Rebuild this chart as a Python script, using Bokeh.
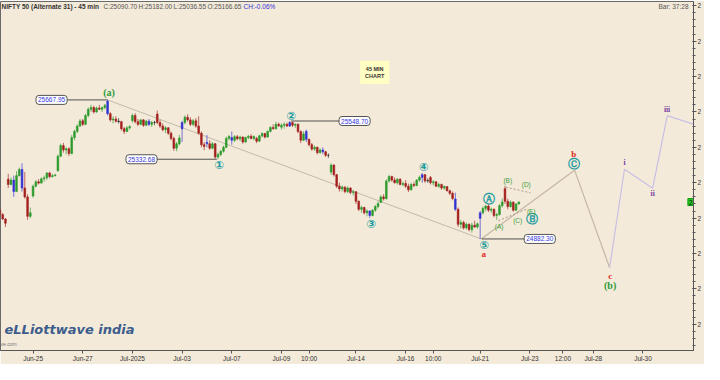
from bokeh.plotting import figure
from bokeh.models import ColumnDataSource, FixedTicker, Range1d, Label
from bokeh.core.properties import value
from bokeh.embed import file_html
from bokeh.resources import INLINE

# ---------------- data (45 min bars, index = bar number) ----------------
bar_open = [25045, 25020, 24995,
            25220, 25190, 25215, 25150, 25240, 25275, 25170, 25120, 25010,
            25125, 25180, 25205, 25198, 25222, 25228, 25255, 25235, 25240,
            25268, 25350, 25410, 25385, 25392, 25365, 25455, 25490, 25520,
            25550, 25530, 25580, 25615, 25625, 25600, 25622, 25615, 25625,
            25661, 25590, 25555, 25560, 25548, 25545, 25505, 25490, 25510,
            25551, 25580, 25545, 25530, 25555, 25525, 25548, 25530, 25540,
            25588, 25540, 25520, 25500, 25510, 25480, 25450, 25395, 25420,
            25505, 25540, 25570, 25555, 25530, 25550, 25520, 25480, 25415,
            25428, 25420, 25395, 25420, 25345, 25360, 25378, 25400, 25450,
            25455, 25440, 25460, 25448, 25458, 25430, 25455, 25462, 25450,
            25450, 25435, 25465, 25478, 25458, 25490, 25512, 25505, 25530,
            25514, 25525, 25530, 25520, 25540, 25525, 25530, 25490, 25440,
            25490, 25445, 25415, 25390, 25400, 25370, 25385, 25375, 25355,
            25260, 25300, 25245, 25180, 25165, 25175, 25150, 25170, 25145,
            25149, 25095, 25050, 25060, 25030, 25040, 25015, 25045, 25065,
            25089, 25120, 25110, 25210, 25235, 25215, 25200, 25220, 25190,
            25196, 25180, 25160, 25190, 25185, 25215, 25230, 25245, 25210,
            25230, 25200, 25205, 25180, 25190, 25170, 25178, 25155, 25140,
            25108, 25050, 24965, 24975, 24945, 24965, 24935, 24960, 24950,
            24999, 25030, 25055, 25068, 25045, 25050, 25015, 25020, 25070,
            25166.65, 25095, 25065, 25090, 25045, 25080]
bar_high = [25055, 25028, 25000,
            25250, 25230, 25240, 25265, 25285, 25310, 25260, 25135, 25060,
            25190, 25215, 25220, 25230, 25240, 25260, 25262, 25250, 25250,
            25360, 25420, 25425, 25400, 25400, 25470, 25500, 25530, 25560,
            25560, 25590, 25625, 25640, 25635, 25630, 25640, 25630, 25645,
            25667.95, 25600, 25575, 25575, 25565, 25550, 25515, 25520, 25525,
            25590, 25593, 25560, 25560, 25560, 25555, 25560, 25550, 25550,
            25608, 25555, 25535, 25520, 25515, 25490, 25460, 25430, 25470,
            25550, 25580, 25587, 25570, 25560, 25565, 25575, 25490, 25430,
            25470, 25440, 25430, 25425, 25370, 25385, 25410, 25460, 25470,
            25489, 25470, 25470, 25465, 25462, 25460, 25470, 25475, 25468,
            25460, 25470, 25485, 25482, 25495, 25520, 25530, 25545, 25540,
            25535, 25542, 25540, 25548.70, 25545, 25535, 25535, 25495, 25490,
            25500, 25450, 25425, 25410, 25405, 25395, 25400, 25380, 25365,
            25310, 25305, 25250, 25200, 25185, 25180, 25180, 25175, 25160,
            25151, 25100, 25070, 25065, 25050, 25045, 25050, 25075, 25095,
            25130, 25135, 25220, 25245, 25240, 25230, 25225, 25225, 25205,
            25215, 25195, 25200, 25205, 25220, 25240, 25255, 25250, 25225,
            25238, 25215, 25210, 25200, 25195, 25185, 25180, 25160, 25150,
            25144, 25060, 24990, 24985, 24975, 24970, 24975, 24985, 24975,
            25040, 25065, 25075, 25080, 25060, 25055, 25030, 25080, 25111,
            25182.00, 25110, 25100, 25095, 25085, 25095]
bar_low = [25015, 24990, 24950,
           25170, 25185, 25120, 25150, 25235, 25150, 25110, 24990, 25000,
           25115, 25175, 25190, 25195, 25205, 25215, 25225, 25228, 25235,
           25262, 25345, 25370, 25360, 25350, 25360, 25440, 25480, 25515,
           25520, 25525, 25570, 25600, 25590, 25595, 25610, 25600, 25615,
           25580, 25545, 25535, 25540, 25535, 25495, 25475, 25485, 25500,
           25540, 25535, 25520, 25525, 25515, 25520, 25520, 25515, 25525,
           25530, 25510, 25490, 25480, 25470, 25440, 25380, 25378, 25410,
           25430, 25530, 25545, 25520, 25520, 25510, 25470, 25400, 25384,
           25400, 25385, 25390, 25335, 25332.68, 25350, 25370, 25395, 25440,
           25415, 25430, 25440, 25435, 25420, 25425, 25445, 25445, 25440,
           25424, 25430, 25455, 25450, 25455, 25485, 25500, 25500, 25515,
           25500, 25505, 25515, 25515, 25515, 25510, 25480, 25424, 25435,
           25430, 25405, 25380, 25380, 25360, 25365, 25360, 25345, 25340,
           25245, 25235, 25170, 25150, 25150, 25140, 25140, 25135, 25129,
           25080, 25040, 25030, 25020, 25010, 25001, 25010, 25035, 25055,
           25085, 25100, 25105, 25200, 25205, 25195, 25190, 25185, 25180,
           25170, 25147, 25155, 25175, 25180, 25205, 25200, 25200, 25200,
           25190, 25185, 25175, 25170, 25160, 25160, 25150, 25130, 25101,
           25040, 24950, 24940, 24935, 24935, 24925, 24918, 24945, 24940,
           24882.30, 25020, 25040, 25035, 25030, 25005, 24990, 25015, 25060,
           25080, 25050, 25060, 25036.55, 25040, 25075]
bar_close = [25020, 24995, 24971,
             25190, 25215, 25150, 25240, 25275, 25170, 25120, 25010, 25030,
             25180, 25205, 25198, 25222, 25228, 25255, 25235, 25240, 25244,
             25350, 25410, 25385, 25392, 25365, 25455, 25490, 25520, 25549,
             25530, 25580, 25615, 25625, 25600, 25622, 25615, 25625, 25637,
             25590, 25555, 25560, 25548, 25545, 25505, 25490, 25510, 25517,
             25580, 25545, 25530, 25555, 25525, 25548, 25530, 25540, 25541,
             25540, 25520, 25500, 25510, 25480, 25450, 25395, 25420, 25453,
             25540, 25570, 25555, 25530, 25550, 25520, 25480, 25415, 25405,
             25420, 25395, 25420, 25345, 25360, 25378, 25400, 25450, 25461,
             25440, 25460, 25448, 25458, 25430, 25455, 25462, 25450, 25461,
             25435, 25465, 25478, 25458, 25490, 25512, 25505, 25530, 25522,
             25525, 25530, 25520, 25540, 25525, 25530, 25490, 25440, 25476,
             25445, 25415, 25390, 25400, 25370, 25385, 25375, 25355, 25355,
             25300, 25245, 25180, 25165, 25175, 25150, 25170, 25145, 25149,
             25095, 25050, 25060, 25030, 25040, 25015, 25045, 25065, 25082,
             25120, 25110, 25210, 25235, 25215, 25200, 25220, 25190, 25196,
             25180, 25160, 25190, 25185, 25215, 25230, 25245, 25210, 25212,
             25200, 25205, 25180, 25190, 25170, 25178, 25155, 25140, 25111,
             25050, 24965, 24975, 24945, 24965, 24935, 24960, 24950, 24968,
             25030, 25055, 25068, 25045, 25050, 25015, 25020, 25070, 25091,
             25095, 25065, 25090, 25045, 25080, 25090.70]
highlight_bars = [5, 8, 39, 54, 66, 75, 84, 105, 111, 117, 134, 153, 165, 174]

date_tick_pos = [12, 30, 48, 66, 84, 102, 112, 129, 147, 157, 174, 192, 204, 215, 233]
date_tick_labels = ["Jun-25", "Jun-27", "Jul-2025", "Jul-03", "Jul-07", "Jul-09", "10:00",
                    "Jul-14", "Jul-16", "10:00", "Jul-21", "Jul-23", "12:00", "Jul-28", "Jul-30"]
price_ticks = [24400, 24600, 24800, 25000, 25200, 25400, 25600, 25800, 26000, 26200]

# pivot price boxes
pivot_price = [25667.95, 25332.68, 25548.70, 24882.30]
pivot_bar = [39, 78.6, 105.5, 174.6]
pivot_label_bar = [18.7, 51.3, 128.5, 195.6]

# wave labels
circ_text = ["\u2460", "\u2461", "\u2462", "\u2463", "\u2464", "\u24b6", "\u24b7", "\u24b8"]
circ_x = [79.5, 105.6, 134.6, 153.6, 175.5, 177.3, 192.7, 208.0]
circ_y = [25298, 25579, 24968, 25288, 24849, 25110, 24993, 25306]
red_text = ["a", "b", "c"]
red_x = [175.3, 207.9, 221.1]
red_y = [24795, 25360, 24674]
green_big_text = ["(a)", "(b)"]
green_big_x = [39.5, 221.1]
green_big_y = [25712, 24617]
sub_text = ["(A)", "(B)", "(C)", "(D)", "(E)"]
sub_x = [180.9, 184.0, 187.6, 190.7, 192.5]
sub_y = [24952, 25214, 24989, 25189, 25037]
roman_text = ["i", "ii", "iii"]
roman_x = [226.3, 236.5, 241.7]
roman_y = [25312, 25137, 25615]

# wave paths
path_a_x = [39, 174.4]
path_a_y = [25667.95, 24882.30]
path_b_x = [174.4, 208.2, 220.9]
path_b_y = [24882.30, 25271, 24720]
path_c_x = [220.9, 226.3, 236.5, 241.8, 251.5]
path_c_y = [24720, 25276, 25169, 25579, 25530]
tri_up_x = [183.3, 192.2]
tri_up_y = [25175, 25143]
tri_lo_x = [180.6, 191.2]
tri_lo_y = [24985, 25053]

last_price = 25090.70

# ---------------- styling ----------------
BG = "#F3EAD9"
GREEN = "#2E9A2E"
RED = "#A3201E"
BLUE = "#3232D2"
BLACK = "#222222"
TEAL = "#1B9AA0"
SANS = "Liberation Sans"
SERIF = "Liberation Serif"

X0, X1 = 0.2, 251.3
Y0, Y1 = 24252, 26224

p = figure(width=704, height=364, output_backend="svg", toolbar_location=None,
           x_range=Range1d(X0, X1), y_range=Range1d(Y0, Y1),
           y_axis_location="right", background_fill_color=BG, border_fill_color=BG,
           min_border_left=0, min_border_top=1, min_border_right=0, min_border_bottom=0)
p.outline_line_color = "#6A6A6A"
p.grid.visible = False

xa = p.xaxis[0]
xa.ticker = FixedTicker(ticks=date_tick_pos)
xa.major_label_overrides = {t: s for t, s in zip(date_tick_pos, date_tick_labels)}
xa.major_label_text_font = SANS
xa.major_label_text_font_size = "6.5px"
xa.major_label_text_color = "#333333"
xa.major_label_standoff = 1
xa.major_tick_out = 3
xa.major_tick_in = 0
xa.minor_tick_line_color = None
xa.axis_line_color = "#555555"
xa.major_tick_line_color = "#555555"

ya = p.yaxis[0]
minor = [v for v in range(24240, 26240, 40)]
ya.ticker = FixedTicker(ticks=price_ticks, minor_ticks=minor)
ya.major_label_overrides = {t: str(t)[0] for t in price_ticks}
ya.major_label_text_font = SANS
ya.major_label_text_font_size = "6.5px"
ya.major_label_text_color = "#333333"
ya.major_label_standoff = 1
ya.major_tick_out = 3
ya.major_tick_in = 1
ya.minor_tick_out = 2
ya.minor_tick_in = 1
ya.axis_line_color = "#555555"
ya.major_tick_line_color = "#555555"
ya.minor_tick_line_color = "#555555"

# ---------------- candles ----------------
n = len(bar_open)
colors = []
for i in range(n):
    o, c = bar_open[i], bar_close[i]
    if i in highlight_bars:
        colors.append(BLUE)
    elif abs(c - o) < 4:
        colors.append(BLACK)
    elif c > o:
        colors.append(GREEN)
    else:
        colors.append(RED)
src = ColumnDataSource(dict(x=list(range(n)), o=bar_open, h=bar_high, l=bar_low, c=bar_close,
                            top=[max(a, b) for a, b in zip(bar_open, bar_close)],
                            bottom=[min(a, b) for a, b in zip(bar_open, bar_close)],
                            color=colors))

# wave paths (behind candles)
p.line(path_a_x, path_a_y, line_color="#C4BAA8", line_width=1)
p.line(path_b_x, path_b_y, line_color="#C4B8A2", line_width=1.2)
p.line(path_c_x, path_c_y, line_color="#C8C0E4", line_width=1.2)

p.segment(x0="x", y0="l", x1="x", y1="h", source=src, line_color="color", line_width=1, line_alpha=0.65)
p.vbar(x="x", width=0.62, top="top", bottom="bottom", source=src,
       fill_color="color", line_color="color", line_width=0.6)

p.line(tri_up_x, tri_up_y, line_color="#A89888", line_width=1, line_dash="2 2")
p.line(tri_lo_x, tri_lo_y, line_color="#A89888", line_width=1, line_dash="2 2")

# pivot price boxes with connectors
p.segment(x0=pivot_label_bar, y0=pivot_price, x1=pivot_bar, y1=pivot_price,
          line_color="#505050", line_width=1)
p.text(x=pivot_label_bar, y=pivot_price, text=["%.2f" % v for v in pivot_price],
       text_font=value(SANS), text_font_size="6.5px", text_color="#3535E0",
       text_align="center", text_baseline="middle",
       background_fill_color="white", border_line_color="#555555", border_line_width=1,
       padding=2, border_radius=3)

# wave labels
p.text(x=circ_x, y=circ_y, text=circ_text, text_font=value("DejaVu Sans"),
       text_font_size="11.5px", text_color=TEAL, text_font_style="bold",
       text_align="center", text_baseline="middle")
p.text(x=red_x, y=red_y, text=red_text, text_font=value(SERIF), text_font_size="9px",
       text_color="#E02828", text_font_style="bold", text_align="center", text_baseline="middle")
p.text(x=green_big_x, y=green_big_y, text=green_big_text, text_font=value(SERIF),
       text_font_size="10px", text_color="#2E9A3A", text_font_style="bold",
       text_align="center", text_baseline="middle")
p.text(x=sub_x, y=sub_y, text=sub_text, text_font=value(SANS), text_font_size="6.5px",
       text_color="#3FA03F", text_align="center", text_baseline="middle")
p.text(x=roman_x, y=roman_y, text=roman_text, text_font=value(SERIF), text_font_size="7.5px",
       text_color="#7A3C9E", text_font_style="bold", text_align="center", text_baseline="middle")

# header
head_text = ["NIFTY 50 (Alternate 31) - 45 min", "C:25090.70", "H:25182.00", "L:25036.55",
             "O:25166.65", "CH:-0.06%"]
head_off = [1, 103, 138, 173, 207, 243]
head_col = ["#333333", "#555555", "#555555", "#555555", "#555555", "#3333DD"]
head_style = ["bold", "normal", "normal", "normal", "normal", "normal"]
p.text(x=[X0] * len(head_text), y=[26196] * len(head_text), text=head_text, x_offset=head_off,
       text_color=head_col, text_font_style=head_style, text_font=value(SANS),
       text_font_size="6.5px", text_align="left", text_baseline="middle")
p.text(x=[X1], y=[26196], text=["Bar: 37:28"], x_offset=-5, text_color="#555555",
       text_font=value(SANS), text_font_size="6.5px", text_align="right", text_baseline="middle")

# logo
p.text(x=[X0], y=[24372], text=["eLLiottwave india"], x_offset=4, text_color="#3C5C8C",
       text_font=value("DejaVu Sans"), text_font_style="bold italic", text_font_size="13px",
       text_align="left", text_baseline="middle")
p.text(x=[X0], y=[24290], text=["ve.com"], x_offset=0, text_color="#777777",
       text_font=value(SANS), text_font_size="5px", text_align="left", text_baseline="middle")

# note box with shadow
p.add_layout(Label(x=135.8, y=25823, text="45 MIN\nCHART", text_font=SANS, text_font_size="5.5px",
                   text_font_style="bold", text_align="center", text_baseline="middle",
                   text_alpha=0, background_fill_color="#85837A", padding=5,
                   x_offset=3, y_offset=-3))
p.add_layout(Label(x=135.8, y=25823, text="45 MIN\nCHART", text_font=SANS, text_font_size="5.5px",
                   text_font_style="bold", text_color="#333333", text_align="center",
                   text_baseline="middle", background_fill_color="#FFFFC4", padding=5))

# last price marker at the right edge
p.text(x=[X1], y=[last_price], text=[str(int(last_price))[0]], x_offset=0,
       text_font=value(SANS), text_font_size="6.5px", text_color="#111111",
       text_align="right", text_baseline="middle",
       background_fill_color="#22CC22", border_line_color="#119911", padding=1)

open("out.html", "w").write(file_html(p, INLINE))
